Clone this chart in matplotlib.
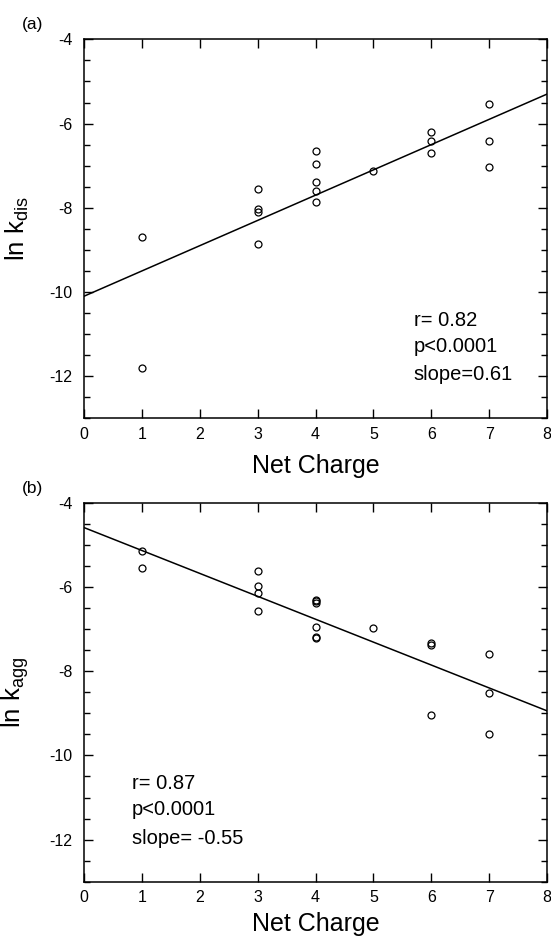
import numpy as np
import matplotlib
matplotlib.use('Agg')
from matplotlib import pyplot as plt
from matplotlib.ticker import MultipleLocator

plt.rcParams['font.family'] = ['Liberation Sans', 'DejaVu Sans']
plt.rcParams['mathtext.default'] = 'regular'
plt.rcParams['axes.unicode_minus'] = False

# panel (a): ln k_dis vs net charge
charge_a = [1, 1, 3, 3, 3, 3, 4, 4, 4, 4, 4, 5, 6, 6, 6, 7, 7, 7]
lnk_dis = [-8.70, -11.80, -7.55, -8.02, -8.10, -8.85,
           -6.64, -6.95, -7.39, -7.59, -7.87, -7.12,
           -6.19, -6.41, -6.70, -5.54, -6.41, -7.02]
fit_a = (0.60, -10.10)  # slope, intercept as drawn
text_a = ["r= 0.82", "p<0.0001", "slope=0.61"]

# panel (b): ln k_agg vs net charge
charge_b = [1, 1, 3, 3, 3, 3, 4, 4, 4, 4, 4, 4, 5, 6, 6, 6, 7, 7, 7]
lnk_agg = [-5.14, -5.56, -5.62, -5.98, -6.15, -6.57,
           -6.30, -6.34, -6.39, -6.96, -7.18, -7.22, -6.97,
           -7.33, -7.39, -9.04, -7.59, -8.51, -9.49]
fit_b = (-0.544, -4.59)
text_b = ["r= 0.87", "p<0.0001", "slope= -0.55"]

fig = plt.figure(figsize=(5.51, 9.39), dpi=100)
ax_a = fig.add_axes([0.1525, 0.5545, 0.8403, 0.4036])
ax_b = fig.add_axes([0.1525, 0.0610, 0.8403, 0.4036])


def setup(ax, x, y, fit, ylab, notes, note_x, note_y, tag, xpad):
    ax.plot(x, y, 'o', ms=5, mfc='none', mec='black', mew=0.9, zorder=3)
    xs = np.array([0, 8])
    ax.plot(xs, fit[0] * xs + fit[1], color='black', lw=1.1, zorder=2)
    ax.set_xlim(0, 8)
    ax.set_ylim(-13, -4)
    ax.xaxis.set_major_locator(MultipleLocator(1))
    ax.yaxis.set_major_locator(MultipleLocator(2))
    ax.yaxis.set_minor_locator(MultipleLocator(0.5))
    ax.tick_params(which='both', direction='in', top=True, right=True,
                   width=1.0, labelsize=11.5)
    ax.tick_params(which='major', length=6.5)
    ax.tick_params(which='minor', length=4)
    ax.tick_params(axis='x', pad=6)
    ax.tick_params(axis='y', pad=8.5)
    for s in ax.spines.values():
        s.set_linewidth(1.1)
    ax.set_xlabel('Net Charge', fontsize=18, labelpad=xpad)
    ax.set_ylabel(ylab, fontsize=18.5)
    ax.yaxis.set_label_coords(-0.115, 0.5)
    for t, yy in zip(notes, note_y):
        ax.text(note_x, yy, t, fontsize=14.5, va='center', ha='left')
    ax.text(-0.112, 1.038, tag, transform=ax.transAxes, fontsize=12.5,
            ha='center', va='center')


setup(ax_a, charge_a, lnk_dis, fit_a, 'ln k$_{dis}$', text_a,
      5.70, [-10.68, -11.30, -11.97], '(a)', 9)
setup(ax_b, charge_b, lnk_agg, fit_b, 'ln k$_{agg}$', text_b,
      0.83, [-10.66, -11.28, -11.98], '(b)', 5)

fig.savefig('out.png', dpi=100)
